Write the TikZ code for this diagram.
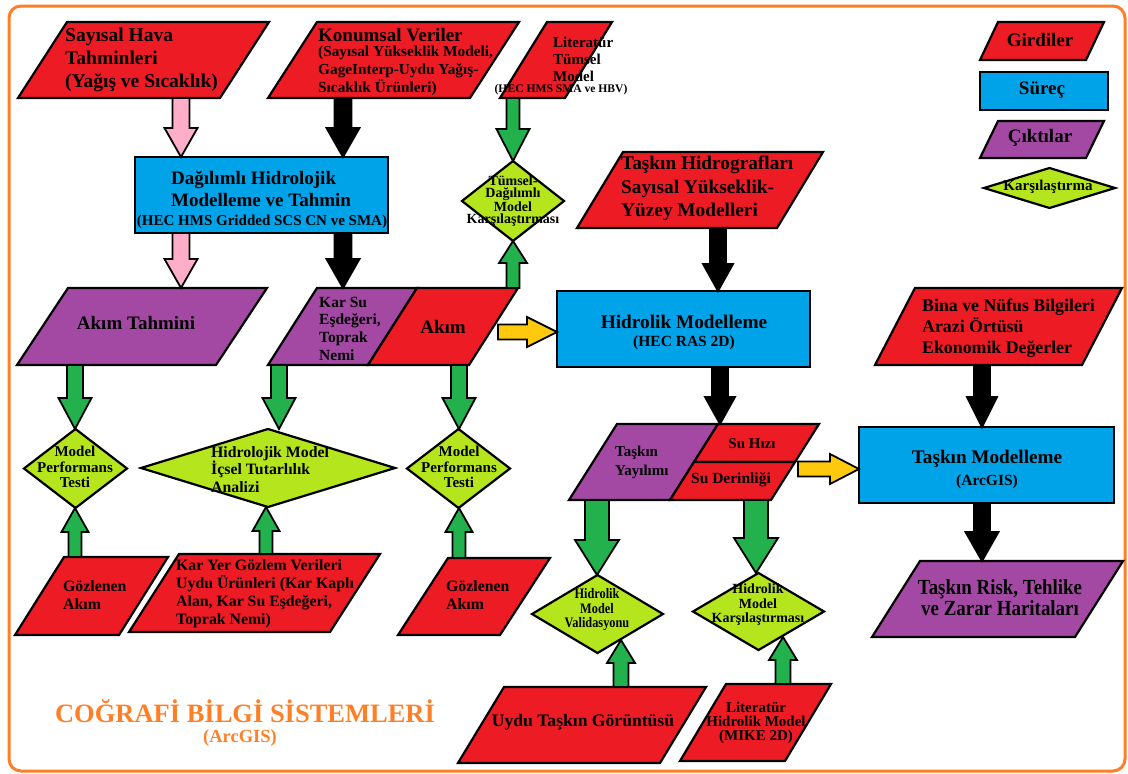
\documentclass[tikz,border=0pt]{standalone}
\usepackage{fontspec}
\setmainfont{Liberation Serif}
\newfontfamily\condA[FakeStretch=0.85]{Liberation Serif}
\newfontfamily\condB[FakeStretch=0.88]{Liberation Serif}
\usetikzlibrary{calc,fit}
\definecolor{cred}{HTML}{ED1C24}
\definecolor{cblue}{HTML}{00A2E8}
\definecolor{cpurple}{HTML}{A349A4}
\definecolor{cyg}{HTML}{B5E61D}
\definecolor{cgreen}{HTML}{22B14C}
\definecolor{cpink}{HTML}{FFAEC9}
\definecolor{cyellow}{HTML}{FFC90E}
\definecolor{corange}{HTML}{FF7F27}
\newcommand\fs[2]{\fontsize{#1}{#2}\selectfont\bfseries}
\newcommand\para[7]{%
 \draw[shp,fill=#2] (#3,#6) -- (#4,#6) -- ({#4-(#3-#5)},#7) -- (#5,#7) -- cycle;
 \node[anch, fit={(#5,#6) (#4,#7)}] (#1) {};}
\newcommand\dia[6]{%
 \draw[shp,fill=#2] (#3,{(#5+#6)/2}) -- ({(#3+#4)/2},#5) -- (#4,{(#5+#6)/2}) -- ({(#3+#4)/2},#6) -- cycle;
 \node[anch, fit={(#3,#5) (#4,#6)}] (#1) {};}
\newcommand\procbox[5]{%
 \draw[shp,fill=cblue] (#2,#4) rectangle (#3,#5);
 \node[anch, fit={(#2,#4) (#3,#5)}] (#1) {};}
\newcommand\barrow[6]{%
 \coordinate (hb) at ($(#3)!#6pt!(#2)$);
 \draw[blk,fill=#1] ($(#2)!#4pt!90:(#3)$) -- ($(hb)!#4pt!90:(#3)$) -- ($(hb)!#5pt!90:(#3)$) -- (#3) -- ($(hb)!#5pt!-90:(#3)$) -- ($(hb)!#4pt!-90:(#3)$) -- ($(#2)!#4pt!-90:(#3)$) -- cycle;}
\begin{document}
\begin{tikzpicture}[x=1pt,y=-1pt,
 shp/.style={draw=black, line width=2.2pt, line join=miter},
 blk/.style={draw=black, line width=1.8pt, line join=miter},
 anch/.style={inner sep=0pt, outer sep=0pt, draw=none},
 txt/.style={inner sep=0pt, align=left, text=black},
 txtc/.style={inner sep=0pt, align=center, text=black}]
\useasboundingbox (0,0) rectangle (1128,774);
\node[draw=corange, line width=3pt, rounded corners=12pt, inner sep=0pt, fit={(9,6) (1125,771)}] (frame) {};

% inputs / outputs
\para{sh}{cred}{67}{269}{18}{22}{98}
\para{kon}{cred}{317}{519}{268}{22}{98}
\para{lit}{cred}{547}{612}{500}{22}{98}
\para{leg1}{cred}{998}{1104}{980}{22}{60}
\para{leg3}{cpurple}{998}{1104}{980}{121}{158}
\para{th}{cred}{623}{823}{577}{152}{228}
\para{akt}{cpurple}{68}{267}{17}{288}{365}
\para{karsu}{cpurple}{317}{417}{268}{288}{365}
\para{akim}{cred}{417}{518}{368}{288}{365}
\para{bina}{cred}{915}{1122}{875}{288}{365}
\para{yay}{cpurple}{617}{718}{569}{424}{500}
\para{hiz}{cred}{718}{819}{694}{424}{462}
\para{der}{cred}{694}{795}{670}{462}{500}
\para{gl}{cred}{64}{168}{15}{557}{635}
\para{kyg}{cred}{179}{380}{129}{554}{632}
\para{gr}{cred}{448}{550}{398}{558}{635}
\para{uydu}{cred}{504}{706}{458}{687}{763}
\para{lhm}{cred}{726}{831}{680}{684}{761}
\para{risk}{cpurple}{920}{1123}{872}{561}{637}
% processes
\procbox{leg2}{980}{1108}{72}{110}
\procbox{dag}{135}{388}{157}{233}
\procbox{hm}{557}{810}{291}{367}
\procbox{tm}{859}{1114}{427}{503}
% comparisons
\dia{leg4}{cyg}{984}{1115}{168}{208}
\dia{tum}{cyg}{462}{564}{161}{241}
\dia{mp1}{cyg}{24}{127}{429}{508}
\dia{hid}{cyg}{141}{395}{429}{507}
\dia{mp2}{cyg}{407}{510}{429}{508}
\dia{val}{cyg}{532}{663}{575}{653}
\dia{kar}{cyg}{693}{824}{573}{650}

% arrow columns
\coordinate (c181) at (181,0);
\coordinate (c343) at (343,0);
\coordinate (c513) at (513,0);
\coordinate (c718) at (718,0);
\coordinate (c720) at (720,0);
\coordinate (c982) at (982,0);
\coordinate (c75) at (75,0);
\coordinate (c279) at (279,0);
\coordinate (c459) at (459,0);
\coordinate (c266) at (266,0);
\coordinate (c597) at (597,0);
\coordinate (c756) at (756,0);
\coordinate (c621) at (621,0);
\coordinate (c783) at (783,0);
\coordinate (ys1) at (498,332);
\coordinate (ys2) at (798,469);
\coordinate (vtip) at (621,640);
\coordinate (ktip) at (783,637);

\barrow{cpink}{sh.south -| c181}{dag.north -| c181}{8.5}{16.5}{29}
\barrow{cpink}{dag.south -| c181}{akt.north -| c181}{8.5}{16.5}{29}
\barrow{black}{kon.south -| c343}{dag.north -| c343}{8.5}{16.5}{29}
\barrow{black}{dag.south -| c343}{karsu.north -| c343}{8.5}{16.5}{29}
\barrow{cgreen}{lit.south -| c513}{tum.north -| c513}{6.5}{16.5}{32}
\barrow{cgreen}{akim.north -| c513}{tum.south -| c513}{6.5}{14}{22}
\barrow{cyellow}{ys1}{hm.west |- ys1}{7.5}{15}{30}
\barrow{black}{th.south -| c718}{hm.north -| c718}{8}{15}{27}
\barrow{black}{hm.south -| c720}{hiz.north -| c720}{8}{15}{27}
\barrow{black}{bina.south -| c982}{tm.north -| c982}{8}{15}{30}
\barrow{black}{tm.south -| c982}{risk.north -| c982}{8}{16.5}{29}
\barrow{cyellow}{ys2}{tm.west |- ys2}{7.5}{15}{29}
\barrow{cgreen}{akt.south -| c75}{mp1.north -| c75}{8}{16.5}{31}
\barrow{cgreen}{karsu.south -| c279}{hid.north -| c279}{8}{16.5}{31}
\barrow{cgreen}{akim.south -| c459}{mp2.north -| c459}{8}{16.5}{31}
\barrow{cgreen}{gl.north -| c75}{mp1.south -| c75}{6.5}{13.5}{24}
\barrow{cgreen}{kyg.north -| c266}{hid.south -| c266}{6.5}{13.5}{24}
\barrow{cgreen}{gr.north -| c459}{mp2.south -| c459}{6.5}{13.5}{24}
\barrow{cgreen}{yay.south -| c597}{val.north -| c597}{12}{22}{35}
\barrow{cgreen}{der.south -| c756}{kar.north -| c756}{12}{22}{35}
\barrow{cgreen}{uydu.north -| c621}{vtip}{7.5}{14}{23}
\barrow{cgreen}{lhm.north -| c783}{ktip}{7.5}{14}{23}

% texts
\node[txt, anchor=west, font=\fs{19.5}{23}] (tsh) at (65,60) {Sayısal Hava\\Tahminleri\\(Yağış ve Sıcaklık)};
\node[txt, anchor=west, font=\fs{19}{22}] (tkon1) at (318,35) {Konumsal Veriler};
\node[txt, anchor=west, font=\fs{15.3}{18}] (tkon2) at (318,71) {(Sayısal Yükseklik Modeli,\\GageInterp-Uydu Yağış-\\Sıcaklık Ürünleri)};
\node[txt, anchor=west, font=\fs{15}{17}] (tlit) at (553,59) {Literatür\\Tümsel\\Model};
\node[txtc, font=\fs{11.6}{13}] (tlit2) at (561,90) {(HEC HMS SMA ve HBV)};
\node[txt, anchor=west, font=\fs{19}{22}] (tdag1) at (171,189) {Dağılımlı Hidrolojik\\Modelleme ve Tahmin};
\node[txtc, font=\fs{15}{17}] (tdag2) at (262,222) {(HEC HMS Gridded SCS CN ve SMA)};
\node[txtc, font=\fs{14}{12.5}] (ttum) at (513,201) {Tümsel-\\Dağılımlı\\Model\\Karşılaştırması};
\node[txt, anchor=west, font=\fs{19.3}{23.5}] (tth) at (621,188.5) {Taşkın Hidrografları\\Sayısal Yükseklik-\\Yüzey Modelleri};
\node[txtc, font=\fs{19}{22}] (tleg1) at (1040,40) {Girdiler};
\node[txtc, font=\fs{19}{22}] (tleg2) at (1042,90) {Süreç};
\node[txtc, font=\fs{19}{22}] (tleg3) at (1040,138) {Çıktılar};
\node[txtc, font=\fs{15}{17}] (tleg4) at (1048,187) {Karşılaştırma};
\node[txtc, font=\fs{19}{22}] (takt) at (136,323) {Akım Tahmini};
\node[txt, anchor=west, font=\fs{15.5}{17.7}] (tkarsu) at (319,328.5) {Kar Su\\Eşdeğeri,\\Toprak\\Nemi};
\node[txtc, font=\fs{19}{22}] (takim) at (443,327) {Akım};
\node[txtc, font=\fs{19.3}{22}] (thm1) at (684,322) {Hidrolik Modelleme};
\node[txtc, font=\fs{15.5}{18}] (thm2) at (684,343) {(HEC RAS 2D)};
\node[txt, anchor=west, font=\fs{17.8}{21}] (tbina) at (922,328) {Bina ve Nüfus Bilgileri\\Arazi Örtüsü\\Ekonomik Değerler};
\node[txtc, font=\fs{15}{15.5}] (tmp1) at (75,467) {Model\\Performans\\Testi};
\node[txt, anchor=west, font=\fs{15.8}{17.5}] (thid) at (211,469.5) {Hidrolojik Model\\İçsel Tutarlılık\\Analizi};
\node[txtc, font=\fs{15}{15.5}] (tmp2) at (459,467) {Model\\Performans\\Testi};
\node[txt, anchor=west, font=\fs{15}{19}] (tyay) at (615,462.5) {Taşkın\\Yayılımı};
\node[txtc, font=\fs{15}{18}] (thiz) at (752,444) {Su Hızı};
\node[txtc, font=\fs{15.5}{18}] (tder) at (731,480) {Su Derinliği};
\node[txtc, font=\fs{19.2}{22}] (ttm1) at (987,459) {Taşkın Modelleme};
\node[txtc, font=\fs{15.5}{18}] (ttm2) at (987,482) {(ArcGIS)};
\node[txt, anchor=west, font=\fs{15.8}{18}] (tgl) at (63,595) {Gözlenen\\Akım};
\node[txt, anchor=west, font=\fs{15.8}{18}] (tkyg) at (176,594) {Kar Yer Gözlem Verileri\\Uydu Ürünleri (Kar Kaplı\\Alan, Kar Su Eşdeğeri,\\Toprak Nemi)};
\node[txt, anchor=west, font=\fs{15.8}{18}] (tgr) at (446,595) {Gözlenen\\Akım};
\node[txtc, font={\condA\fs{14.5}{14.5}}] (tval) at (597,610) {Hidrolik\\Model\\Validasyonu};
\node[txtc, font=\fs{14}{14.5}] (tkar) at (758,605) {Hidrolik\\Model\\Karşılaştırması};
\node[txtc, font={\condB\fs{21.5}{21}}] (trisk) at (1000,597.5) {Taşkın Risk, Tehlike\\ve Zarar Haritaları};
\node[txtc, font=\fs{17.6}{20}] (tuydu) at (583,722) {Uydu Taşkın Görüntüsü};
\node[txtc, font=\fs{15}{14}] (tlhm) at (756,723) {Literatür\\Hidrolik Model\\(MIKE 2D)};
\node[txtc, text=corange, font=\fs{26.5}{30}] (tcbs) at (245,711) {COĞRAFİ BİLGİ SİSTEMLERİ};
\node[txtc, text=corange, font=\fs{18.5}{21}] (tarc) at (240,738) {(ArcGIS)};
\end{tikzpicture}
\end{document}
